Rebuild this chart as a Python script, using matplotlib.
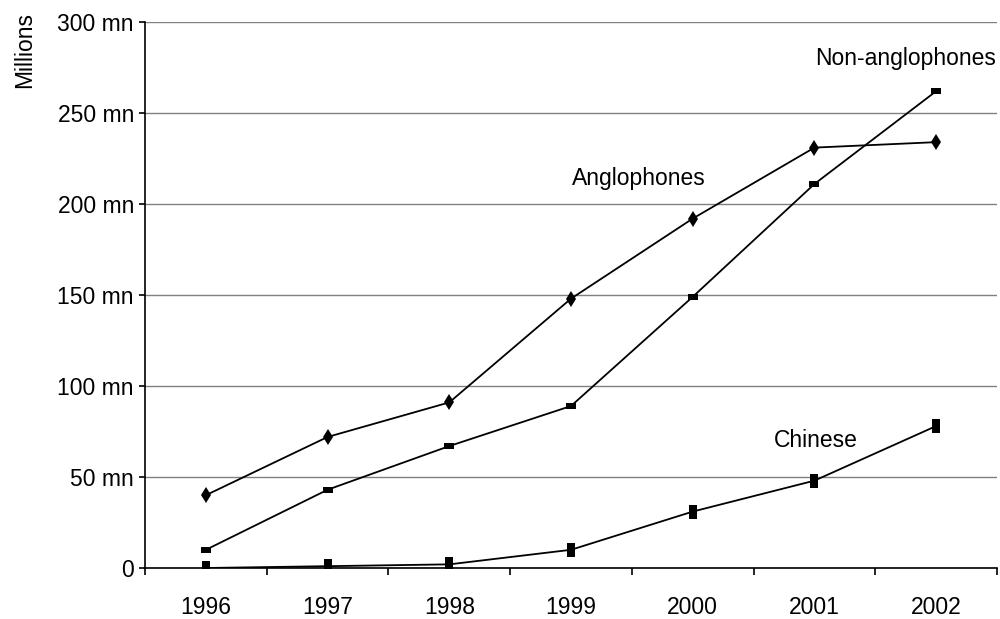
import matplotlib
matplotlib.use('Agg')
import matplotlib.pyplot as plt
import numpy as np

plt.rcParams['font.family'] = ['Liberation Sans', 'DejaVu Sans']

years = ['1996', '1997', '1998', '1999', '2000', '2001', '2002']
anglophones = [40, 72, 91, 148, 192, 231, 234]
non_anglophones = [10, 43, 67, 89, 149, 211, 262]
chinese = [0, 1, 2, 10, 31, 48, 78]
y_ticks = [0, 50, 100, 150, 200, 250, 300]
y_labels = ['0', '50 mn', '100 mn', '150 mn', '200 mn', '250 mn', '300 mn']

# custom rectangle markers
wide_rect = [(-1, -0.5), (1, -0.5), (1, 0.5), (-1, 0.5), (-1, -0.5)]
tall_rect = [(-0.65, -1), (0.65, -1), (0.65, 1), (-0.65, 1), (-0.65, -1)]

fig = plt.figure(figsize=(10, 6.19), dpi=100)
ax = fig.add_axes([0.145, 0.0824, 0.852, 0.882])

x = np.arange(len(years))
ax.plot(x, anglophones, color='black', lw=1.3, marker='d', markersize=8,
        markeredgewidth=0, markerfacecolor='black', zorder=3)
ax.plot(x, non_anglophones, color='black', lw=1.3, marker=wide_rect, markersize=7.5,
        markeredgewidth=0, markerfacecolor='black', zorder=3)
ax.plot(x, chinese, color='black', lw=1.3, marker=tall_rect, markersize=9.5,
        markeredgewidth=0, markerfacecolor='black', zorder=3)

ax.set_xlim(-0.5, len(years) - 0.5)
ax.set_ylim(0, 300)

ax.set_yticks(y_ticks)
ax.set_yticklabels(y_labels, fontsize=16.5)
ax.set_xticks(x)
ax.set_xticklabels(years, fontsize=16.5)
ax.set_xticks(np.arange(-0.5, len(years)), minor=True)
ax.tick_params(axis='x', which='major', length=0, pad=20)
ax.tick_params(axis='x', which='minor', length=5, width=1.2, direction='out')
ax.tick_params(axis='y', length=4, width=1.2, direction='out', pad=4)

ax.grid(axis='y', color='#808080', lw=1.0)
ax.set_axisbelow(True)
for s in ['top', 'right']:
    ax.spines[s].set_visible(False)
for s in ['left', 'bottom']:
    ax.spines[s].set_linewidth(1.2)
    ax.spines[s].set_color('black')

fig.text(0.025, 0.92, 'Millions', rotation=90, fontsize=16.5, ha='center', va='center')

ax.text(5.75, 280, 'Non-anglophones', fontsize=16.5, ha='center', va='center')
ax.text(3.56, 214, 'Anglophones', fontsize=16.5, ha='center', va='center')
ax.text(5.01, 70, 'Chinese', fontsize=16.5, ha='center', va='center')

plt.savefig('out.png', dpi=100, facecolor='white')
plt.close()
